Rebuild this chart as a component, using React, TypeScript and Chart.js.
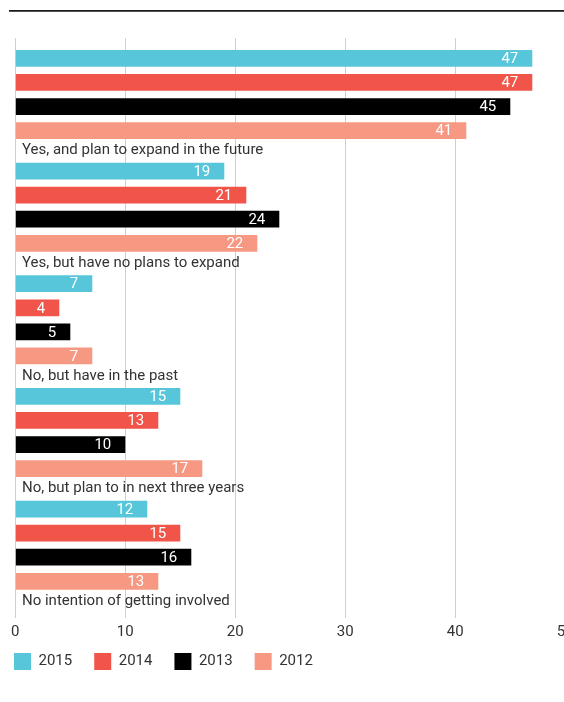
import React, { useEffect, useRef } from 'react';
import { Chart, registerables } from 'chart.js';

Chart.register(...registerables);

const categories = [
  'Yes, and plan to expand in the future',
  'Yes, but have no plans to expand',
  'No, but have in the past',
  'No, but plan to in next three years',
  'No intention of getting involved',
];
const years = ['2015', '2014', '2013', '2012'];
const values2015 = [47, 19, 7, 15, 12];
const values2014 = [47, 21, 4, 13, 15];
const values2013 = [45, 24, 5, 10, 16];
const values2012 = [41, 22, 7, 17, 13];
const xTicks = [0, 10, 20, 30, 40, 50];
const colors = ['#57c6da', '#f1554a', '#000000', '#f69882'];

const FONT = 'Roboto, "DejaVu Sans", sans-serif';
const TEXT = '#333333';

const topRule = {
  id: 'topRule',
  beforeDraw(chart: any) {
    const ctx = chart.ctx;
    ctx.save();
    ctx.strokeStyle = '#1a1a1a';
    ctx.lineWidth = 1.7;
    ctx.beginPath();
    ctx.moveTo(17, 10.85);
    ctx.lineTo(chart.width, 10.85);
    ctx.stroke();
    ctx.restore();
  },
};

const valueLabels = {
  id: 'valueLabels',
  afterDatasetsDraw(chart: any) {
    const ctx = chart.ctx;
    ctx.save();
    ctx.font = `15px ${FONT}`;
    ctx.fillStyle = '#ffffff';
    ctx.textAlign = 'right';
    ctx.textBaseline = 'middle';
    chart.data.datasets.forEach((ds: any, di: number) => {
      const meta = chart.getDatasetMeta(di);
      meta.data.forEach((el: any, i: number) => {
        ctx.fillText(String(ds.data[i]), el.x - 14, el.y + 1);
      });
    });
    ctx.restore();
  },
};

export default function App() {
  const ref = useRef<HTMLCanvasElement>(null);
  useEffect(() => {
    if (!ref.current) return;
    const series = [values2015, values2014, values2013, values2012];
    const chart = new Chart(ref.current, {
      type: 'bar',
      data: {
        labels: categories,
        datasets: years.map((y, i) => ({
          label: y,
          data: series[i],
          backgroundColor: colors[i],
          borderWidth: 0,
          categoryPercentage: 0.855,
          barPercentage: 0.695,
        })),
      },
      options: {
        indexAxis: 'y',
        responsive: false,
        animation: false,
        layout: { padding: { top: 38.2, left: 0, right: 12.7, bottom: 22 } },
        scales: {
          x: {
            min: 0,
            max: 50,
            afterBuildTicks: (s: any) => {
              s.ticks = xTicks.map((v) => ({ value: v }));
            },
            ticks: { font: { family: FONT, size: 15 }, color: TEXT, mirror: true, padding: -39.5 },
            grid: { color: '#cfcfcf', lineWidth: 1, tickLength: 16.5 },
            border: { display: false },
            afterFit: (s: any) => {
              s.height = 29.5;
            },
          },
          y: {
            ticks: {
              mirror: true,
              padding: 6.7,
              labelOffset: 56.1,
              font: { family: FONT, size: 15 },
              color: TEXT,
            },
            grid: { display: false },
            border: { display: false },
            afterFit: (s: any) => {
              s.width = 23.3;
            },
          },
        },
        plugins: {
          legend: {
            position: 'bottom',
            align: 'start',
            labels: {
              boxWidth: 17,
              boxHeight: 17,
              padding: 22,
              font: { family: FONT, size: 15 },
              color: TEXT,
            },
          },
          tooltip: { enabled: false },
        },
      },
      plugins: [topRule, valueLabels],
    } as any);
    return () => chart.destroy();
  }, []);
  return (
    <div style={{ position: 'absolute', left: 0, top: 0, width: 564, height: 702, overflow: 'hidden' }}>
      <canvas
        ref={ref}
        width={586}
        height={702}
        style={{ position: 'absolute', left: -8, top: 0, width: 586, height: 702 }}
      />
    </div>
  );
}
